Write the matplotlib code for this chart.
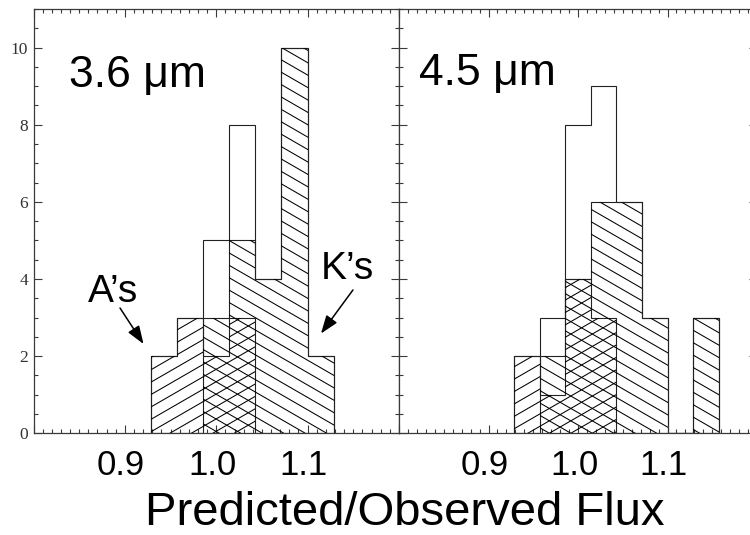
import numpy as np
import matplotlib
matplotlib.use("Agg")
import matplotlib.pyplot as plt
from matplotlib.collections import LineCollection
from matplotlib.ticker import MultipleLocator
from matplotlib.transforms import ScaledTranslation

# ---------------- data ----------------
bin_edges = [0.9286, 0.9571, 0.9857, 1.0143, 1.0429, 1.0714, 1.1000, 1.1286, 1.1571]

# 3.6 micron panel (7 bins)
a_36 = [2, 3, 2, 3, 0, 0, 0]
k_36 = [0, 0, 3, 5, 4, 10, 2]
tot_36 = [2, 3, 5, 8, 4, 10, 2]

# 4.5 micron panel (8 bins)
a_45 = [2, 1, 4, 3, 0, 0, 0, 0]
k_45 = [0, 2, 4, 6, 6, 3, 0, 3]
tot_45 = [2, 3, 8, 9, 6, 3, 0, 3]

x_limits = [0.8, 1.2]
x_major = [0.8, 0.9, 1.0, 1.1, 1.2]
x_major_labels = ['', '0.9', '1.0', '1.1', '']
y_limits = [0, 11]
y_major = [0, 2, 4, 6, 8, 10]
y_major_labels = ['0', '2', '4', '6', '8', '10']
panel_titles = ['3.6 \u03bcm', '4.5 \u03bcm']
x_title = 'Predicted/Observed Flux'
arrow_labels = ['A\u2019s', 'K\u2019s']

# ---------------- figure ----------------
W_IN, H_IN, DPI = 7.5, 5.35, 100
fig = plt.figure(figsize=(W_IN, H_IN), dpi=DPI)
fig.patch.set_facecolor('white')

bottom = (535 - 433.3) / 535
height = (433.3 - 9) / 535
ax1 = fig.add_axes([33.5 / 750, bottom, 365.5 / 750, height])
ax2 = fig.add_axes([399 / 750, bottom, 358 / 750, height])

spine_col = '#3a3a3a'
line_col = '#222222'


def add_hatch(ax, values, edges, sign):
    pos = ax.get_position()
    Wp = W_IN * DPI * pos.width
    Hp = H_IN * DPI * pos.height
    clip = ax.stairs(values, edges, baseline=0, fill=True,
                     facecolor='none', edgecolor='none', linewidth=0)
    slope = sign * np.tan(np.radians(30)) * Wp / Hp
    step = 12.4 / Hp
    cs = np.arange(-1.5 - abs(slope), 1.5 + abs(slope), step)
    segs = [[(0.0, c), (1.0, c + slope)] for c in cs]
    lc = LineCollection(segs, transform=ax.transAxes, colors='black',
                        linewidths=0.75)
    ax.add_collection(lc, autolim=False)
    lc.set_clip_path(clip)


def draw_panel(ax, a, k, tot, edges):
    add_hatch(ax, a, edges, +1)
    add_hatch(ax, k, edges, -1)
    for vals in (tot, a, k):
        ax.stairs(vals, edges, baseline=0, fill=False, color=line_col,
                  linewidth=0.8)
    ax.set_xlim(*x_limits)
    ax.set_ylim(*y_limits)
    ax.set_xticks(x_major, x_major_labels)
    ax.xaxis.set_minor_locator(MultipleLocator(0.01))
    ax.set_yticks(y_major, y_major_labels)
    ax.yaxis.set_minor_locator(MultipleLocator(0.5))
    ax.tick_params(which='both', direction='in', top=True, right=True,
                   color=spine_col, width=0.8)
    ax.tick_params(which='major', length=5.5)
    ax.tick_params(which='minor', length=3)
    ax.tick_params(axis='x', which='major', pad=11, labelsize=25,
                   labelcolor='black')
    for lab in ax.get_xticklabels():
        lab.set_family('Liberation Sans')
        lab.set_transform(lab.get_transform() +
                          ScaledTranslation(-4 / 100, 0, fig.dpi_scale_trans))
    for sp in ax.spines.values():
        sp.set_color(spine_col)
        sp.set_linewidth(0.9)


edges_36 = bin_edges[:len(a_36) + 1]
edges_45 = bin_edges[:len(a_45) + 1]
draw_panel(ax1, a_36, k_36, tot_36, edges_36)
draw_panel(ax2, a_45, k_45, tot_45, edges_45)

ax1.tick_params(axis='y', which='major', labelsize=12.5, pad=4,
                labelcolor='#333333')
for lab in ax1.get_yticklabels():
    lab.set_family('Liberation Serif')
ax2.tick_params(axis='y', labelleft=False)

# panel titles
ax1.text(0.098, 0.816, panel_titles[0], transform=ax1.transAxes,
         fontsize=32, family='Liberation Sans', va='baseline', ha='left')
ax2.text(0.056, 0.821, panel_titles[1], transform=ax2.transAxes,
         fontsize=32, family='Liberation Sans', va='baseline', ha='left')

# A's / K's labels with arrows
ax1.text(0.150, 0.309, arrow_labels[0], transform=ax1.transAxes,
         fontsize=28, family='Liberation Sans', va='baseline', ha='left')
ax1.text(0.785, 0.364, arrow_labels[1], transform=ax1.transAxes,
         fontsize=28, family='Liberation Sans', va='baseline', ha='left')
arrow_kw = dict(arrowstyle='-|>,head_length=0.55,head_width=0.2',
                color='black', lw=1.1, mutation_scale=20,
                shrinkA=0, shrinkB=0)
ax1.annotate('', xy=(0.301, 0.2105), xytext=(0.2367, 0.2953),
             xycoords='axes fraction', textcoords='axes fraction',
             arrowprops=arrow_kw)
ax1.annotate('', xy=(0.7866, 0.2352), xytext=(0.874, 0.3378),
             xycoords='axes fraction', textcoords='axes fraction',
             arrowprops=arrow_kw)

fig.text(405 / 750, 10 / 535, x_title, fontsize=34,
         family='Liberation Sans', ha='center', va='baseline')

fig.savefig('out.png', dpi=DPI, facecolor='white')
